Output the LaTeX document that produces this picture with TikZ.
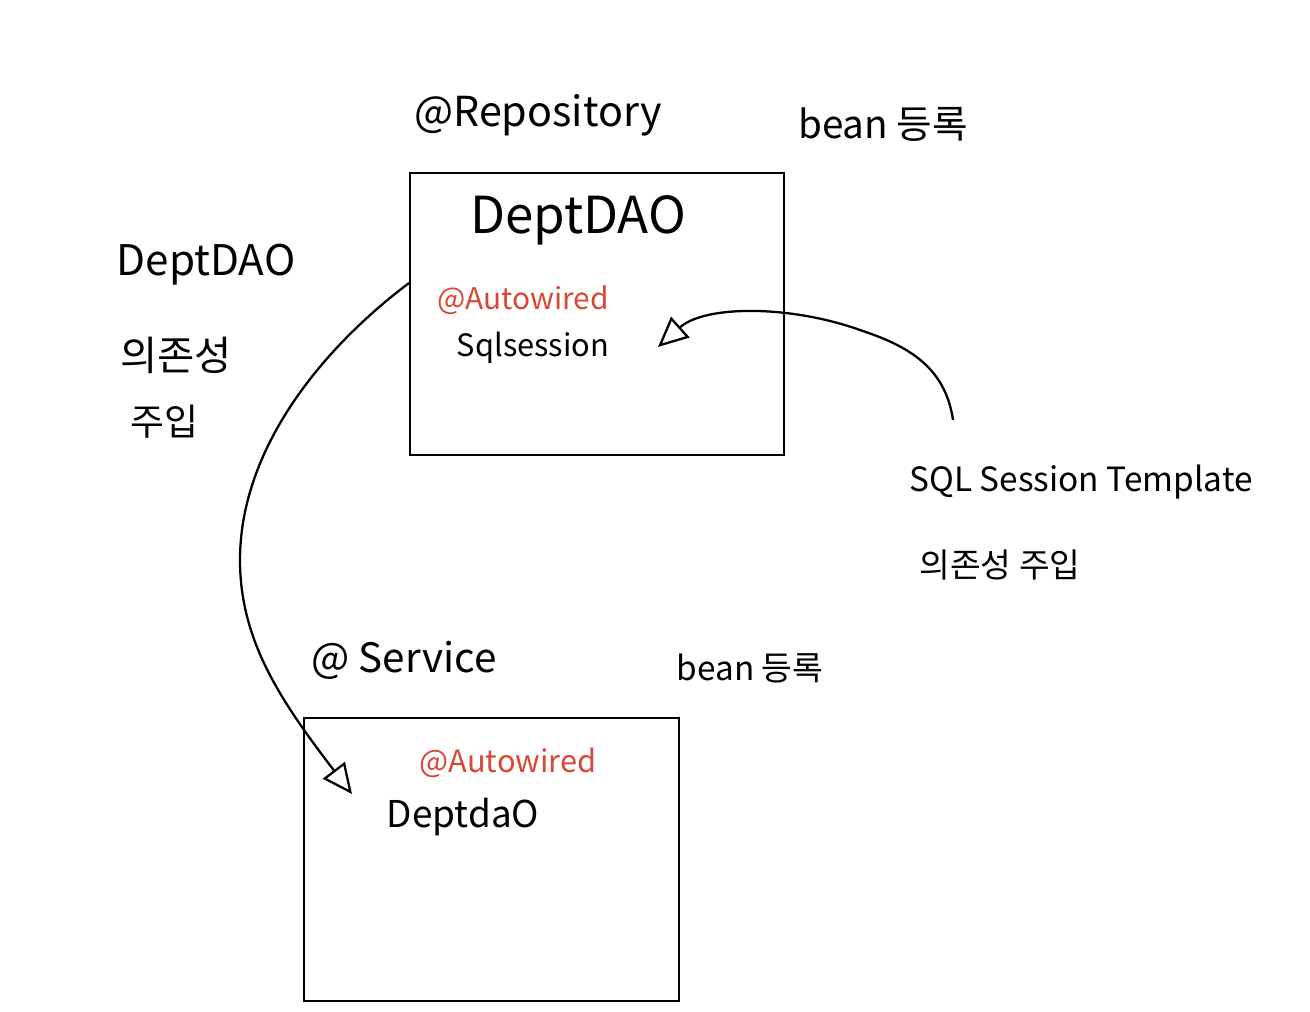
\documentclass[tikz,border=0pt]{standalone}
\usepackage{fontspec}
\setmainfont{Noto Sans CJK KR}
\usetikzlibrary{arrows.meta}
\definecolor{annored}{RGB}{217,72,52}

\begin{document}
\begin{tikzpicture}[x=0.02cm,y=-0.02cm,
  txt/.style={inner sep=0pt,anchor=center},
  anno/.style={txt,text=annored},
  beanbox/.style={rectangle,draw,line width=1.4pt,minimum width=7.48cm,minimum height=5.64cm},
  dep/.style={line width=1.3pt,-{Triangle[open,length=0.6cm,width=0.55cm,line width=1.3pt]}}]
\useasboundingbox (0,0) rectangle (1310,1011);

% DAO bean
\node[txt,font=\fontsize{23.5}{28}\selectfont] (repo) at (538,115) {@Repository};
\node[txt,font=\fontsize{22}{26}\selectfont] (repoBean) at (883,124) {bean 등록};
\node[beanbox] (box1) at (597,314) {};
\node[txt,font=\fontsize{29}{34}\selectfont] (daoTitle) at (578,220) {DeptDAO};
\node[anno,font=\fontsize{17}{20}\selectfont] (daoAuto) at (523,300) {@Autowired};
\node[txt,font=\fontsize{17.5}{21}\selectfont] (sqlField) at (533,348) {Sqlsession};

% left note
\node[txt,font=\fontsize{24}{28}\selectfont] (leftDao) at (206,265) {DeptDAO};
\node[txt,font=\fontsize{23}{27}\selectfont,anchor=west] (leftDep) at (120,355) {의존성};
\node[txt,font=\fontsize{21}{25}\selectfont,anchor=west] (leftInj) at (130,422) {주입};

% right note
\node[txt,font=\fontsize{19}{23}\selectfont] (tmpl) at (1081,482) {SQL Session Template};
\node[txt,font=\fontsize{19}{23}\selectfont] (tmplDep) at (1000,565) {의존성 주입};

% Service bean
\node[txt,font=\fontsize{23}{27}\selectfont] (svc) at (404,660) {@ Service};
\node[txt,font=\fontsize{19}{23}\selectfont] (svcBean) at (750,668) {bean 등록};
\node[beanbox,minimum width=7.5cm,minimum height=5.66cm] (box2) at (491.5,859.5) {};
\node[anno,font=\fontsize{17.5}{21}\selectfont] (svcAuto) at (508,763) {@Autowired};
\node[txt,font=\fontsize{21}{25}\selectfont] (daoField) at (463,817) {DeptdaO};

% injections
\coordinate (daoOut) at (409,283);
\coordinate (daoIn) at (352,794);
\coordinate (tmplOut) at (953,420);
\coordinate (sqlIn) at (658,347);
\draw[dep] (daoOut) .. controls (320,350) and (240,450) .. (240,560)
  .. controls (240,640) and (280,700) .. (daoIn);
\draw[dep] (tmplOut) .. controls (945,365) and (905,345) .. (860,330)
  .. controls (790,305) and (705,305) .. (sqlIn);

\end{tikzpicture}
\end{document}
